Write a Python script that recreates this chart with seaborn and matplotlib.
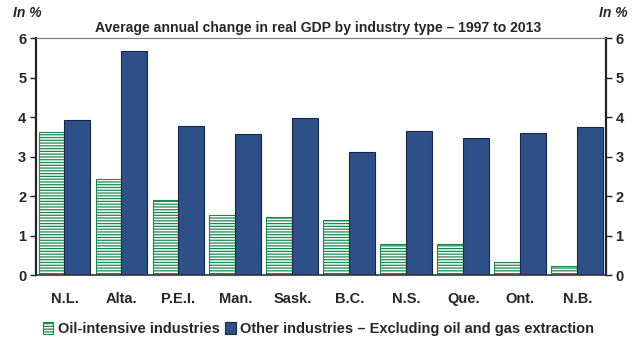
import matplotlib
matplotlib.use("Agg")
import matplotlib.pyplot as plt
from matplotlib.patches import Patch
import seaborn as sns
import pandas as pd

provinces = ["N.L.", "Alta.", "P.E.I.", "Man.", "Sask.", "B.C.", "N.S.", "Que.", "Ont.", "N.B."]
oil_intensive = [3.62, 2.43, 1.90, 1.52, 1.47, 1.39, 0.78, 0.78, 0.33, 0.22]
other_industries = [3.92, 5.67, 3.78, 3.57, 3.97, 3.12, 3.66, 3.48, 3.60, 3.75]
series_names = ["Oil-intensive industries", "Other industries \u2013 Excluding oil and gas extraction"]
y_ticks = [0, 1, 2, 3, 4, 5, 6]

green = "#178A4E"
navy = "#2E5089"
navy_edge = "#14264A"

df = pd.DataFrame({
    "province": provinces * 2,
    "value": oil_intensive + other_industries,
    "series": [series_names[0]] * len(provinces) + [series_names[1]] * len(provinces),
})

sns.set_style("white")
plt.rcParams["font.family"] = ["Liberation Sans", "DejaVu Sans"]
plt.rcParams["hatch.linewidth"] = 0.9

fig = plt.figure(figsize=(6.37, 3.43), dpi=100)
ax = fig.add_axes([0.0565, 0.198, 0.8945, 0.691])

sns.barplot(data=df, x="province", y="value", hue="series", order=provinces,
            hue_order=series_names, palette=["white", navy], width=0.91,
            saturation=1, legend=False, ax=ax)

for bar in ax.containers[0]:
    bar.set_facecolor("white")
    bar.set_edgecolor(green)
    bar.set_hatch("------")
    bar.set_linewidth(0.8)
for bar in ax.containers[1]:
    bar.set_edgecolor(navy_edge)
    bar.set_linewidth(0.8)

ax.set_xlim(-0.5, len(provinces) - 0.5)
ax.set_ylim(0, 6)
ax.set_yticks(y_ticks)
ax.set_xlabel("")
ax.set_ylabel("")

for side in ["left", "right"]:
    ax.spines[side].set_color("#222222")
    ax.spines[side].set_linewidth(1.6)
ax.spines["bottom"].set_color("#333333")
ax.spines["bottom"].set_linewidth(1.2)
ax.spines["top"].set_color("#777777")
ax.spines["top"].set_linewidth(0.8)

ax.tick_params(axis="y", which="both", left=True, right=True, labelleft=True,
               labelright=True, direction="out", length=4, width=1, color="#222222",
               labelsize=10.5, pad=3)
ax.tick_params(axis="x", bottom=False, labelsize=10.5, pad=9)
for lab in ax.get_xticklabels() + ax.get_yticklabels():
    lab.set_fontweight("bold")
for t in ax.yaxis.get_major_ticks():
    t.label2.set_fontweight("bold")

fig.text(0.5, 0.918, "Average annual change in real GDP by industry type \u2013 1997 to 2013",
         ha="center", va="center", fontsize=10.1, fontweight="bold")
fig.text(0.02, 0.962, "In %", ha="left", va="center", fontsize=10, fontweight="bold", style="italic")
fig.text(0.985, 0.962, "In %", ha="right", va="center", fontsize=10, fontweight="bold", style="italic")

handles = [
    Patch(facecolor="white", edgecolor=green, hatch="------", linewidth=0.8),
    Patch(facecolor=navy, edgecolor=navy_edge, linewidth=0.8),
]
leg = fig.legend(handles, series_names, loc="center", bbox_to_anchor=(0.5, 0.04), ncol=2,
                 frameon=False, handlelength=0.7, handleheight=0.9, handletextpad=0.3,
                 columnspacing=0.4, prop={"weight": "bold", "size": 10.5})

fig.savefig("out.png", dpi=100)
